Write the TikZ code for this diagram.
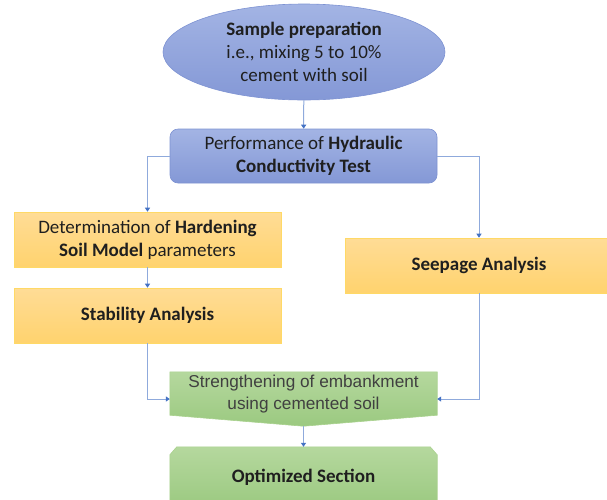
\documentclass[tikz,border=0pt]{standalone}
\usepackage{fontspec}
\setmainfont{Carlito}
\newfontfamily\arialfont{Liberation Sans}
\usetikzlibrary{shapes.geometric,arrows.meta}
\definecolor{linkblue}{RGB}{143,170,220}
\definecolor{tipblue}{RGB}{68,114,196}
\definecolor{blueA}{RGB}{163,180,228}
\definecolor{blueB}{RGB}{132,152,214}
\definecolor{blueline}{RGB}{125,146,210}
\definecolor{orangeA}{RGB}{255,220,150}
\definecolor{orangeB}{RGB}{255,211,110}
\definecolor{orangeline}{RGB}{255,217,102}
\definecolor{greenA}{RGB}{181,216,158}
\definecolor{greenB}{RGB}{155,201,128}
\definecolor{greenline}{RGB}{169,209,142}
\definecolor{greytext}{RGB}{64,64,64}
\tikzset{
  txt/.style={font=\fontsize{19}{23}\selectfont, align=center, text=black!88},
  bluebox/.style={txt, draw=blueline, line width=.6pt, top color=blueA, bottom color=blueB},
  orangebox/.style={txt, draw=orangeline, line width=.6pt, top color=orangeA, bottom color=orangeB, minimum height=55pt},
  greenfill/.style={draw=greenline, line width=.6pt, top color=greenA, bottom color=greenB},
  link/.style={draw=linkblue, line width=1pt, -{Triangle[width=5pt,length=4pt,color=tipblue]}}
}
\begin{document}
\begin{tikzpicture}[x=1pt,y=-1pt]
	\useasboundingbox (0,0) rectangle (607,499);
	\clip (0,0) rectangle (607,499);
	\node[bluebox, ellipse, minimum width=282pt, minimum height=96pt, inner sep=0pt] (sample) at (304,52) {\textbf{Sample preparation}\\i.e., mixing 5 to 10\%\\cement with soil};
	\node[bluebox, rounded corners=8pt, minimum width=267pt, minimum height=54pt] (perf) at (303.5,156) {Performance of \textbf{Hydraulic}\\\textbf{Conductivity Test}};
	\node[orangebox, minimum width=267pt] (determ) at (147.5,239.5) {Determination of \textbf{Hardening}\\\textbf{Soil Model} parameters};
	\node[orangebox, minimum width=267pt] (stab) at (147.5,315.5) {\textbf{Stability Analysis}};
	\node[orangebox, minimum width=268pt] (seep) at (479,265.5) {\textbf{Seepage Analysis}};
	\node[minimum width=267pt, minimum height=54pt, inner sep=0pt] (strength) at (303.5,399) {};
	\path[greenfill] (strength.north west) -- (strength.north east) -- ([yshift=11pt]strength.south east) -- (strength.south) -- ([yshift=11pt]strength.south west) -- cycle;
	\node[txt, font=\arialfont\fontsize{17.2}{22}\selectfont, text=greytext] (strengthtxt) at ([yshift=5pt]strength.center) {Strengthening of embankment\\using cemented soil};
	\node[minimum width=267pt, minimum height=60pt, inner sep=0pt] (opt) at (303.5,477) {};
	\path[greenfill] ([yshift=-8pt]opt.north west) -- ([xshift=7pt]opt.north west) -- ([xshift=-7pt]opt.north east) -- ([yshift=-8pt]opt.north east) -- (opt.south east) -- (opt.south west) -- cycle;
	\node[txt] (opttxt) at (opt.center) {\textbf{Optimized Section}};
	\draw[link] (sample) -- (perf);
	\draw[link] (perf.west) -| (determ.north);
	\draw[link] (perf.east) -| (seep.north);
	\draw[link] (determ) -- (stab);
	\draw[link] (stab.south) |- (strength.west);
	\draw[link] (seep.south) |- (strength.east);
	\draw[link] (strength.south) -- (opt.north);
\end{tikzpicture}
\end{document}
